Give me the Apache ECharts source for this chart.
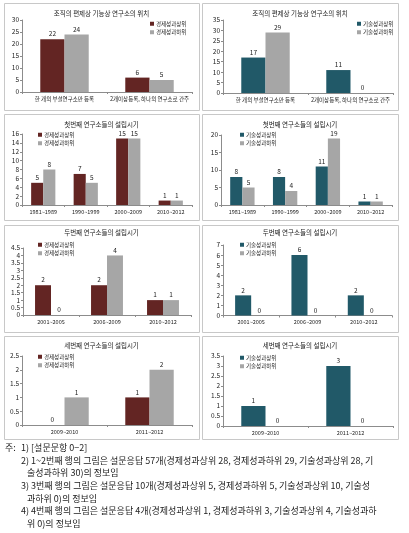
<!DOCTYPE html>
<html><head><meta charset="utf-8">
<script src="https://cdn.jsdelivr.net/npm/echarts@6/dist/echarts.min.js"></script>
<style>html,body{margin:0;padding:0;background:#fff}#c{width:409px;height:533px}</style>
</head><body><div id="c"></div>
<script>
// ---- data ----
const titleRow1 = '조직의 편제상 기능상 연구소의 위치';
const titleRow2 = '첫번째 연구소들의 설립시기';
const titleRow3 = '두번째 연구소들의 설립시기';
const titleRow4 = '세번째 연구소들의 설립시기';
const econNames = ['경제성과상위', '경제성과하위'];
const techNames = ['기술성과상위', '기술성과하위'];

const row1Cats = ['한 개의 부설연구소만 등록', '2개이상등록, 하나의 연구소로 간주'];
const row1EconHigh = [22, 6];
const row1EconLow = [24, 5];
const row1TechHigh = [17, 11];
const row1TechLow = [29, 0];

const row2Cats = ['1981~1989', '1990~1999', '2000~2009', '2010~2012'];
const row2EconHigh = [5, 7, 15, 1];
const row2EconLow = [8, 5, 15, 1];
const row2TechHigh = [8, 8, 11, 1];
const row2TechLow = [5, 4, 19, 1];

const row3Cats = ['2001~2005', '2006~2009', '2010~2012'];
const row3EconHigh = [2, 2, 1];
const row3EconLow = [0, 4, 1];
const row3TechHigh = [2, 6, 2];
const row3TechLow = [0, 0, 0];

const row4Cats = ['2009~2010', '2011~2012'];
const row4EconHigh = [0, 1];
const row4EconLow = [1, 2];
const row4TechHigh = [1, 3];
const row4TechLow = [0, 0];

// y-axis scales [max, interval]
const yScales = [[30, 5], [35, 5], [16, 2], [20, 5], [4.5, 0.5], [7, 1], [2.5, 0.5], [3.5, 0.5]];

const noteHead = '주:';
const noteLines = [
  '1) [설문문항 0−2]',
  '2) 1~2번째 행의 그림은 설문응답 57개(경제성과상위 28, 경제성과하위 29, 기술성과상위 28, 기',
  '술성과하위 30)의 정보임',
  '3) 3번째 행의 그림은 설문응답 10개(경제성과상위 5, 경제성과하위 5, 기술성과상위 10, 기술성',
  '과하위 0)의 정보임',
  '4) 4번째 행의 그림은 설문응답 4개(경제성과상위 1, 경제성과하위 3, 기술성과상위 4, 기술성과하',
  '위 0)의 정보임'
];

// ---- layout / style ----
const FONT = '"Noto Sans CJK KR", "Noto Sans", sans-serif';
const C_MAROON = '#632523', C_GRAY = '#a6a6a6', C_TEAL = '#215968';
const AX = '#8c8c8c';

const panels = [
  {x: 4, y: 3, w: 195, h: 107}, {x: 202, y: 3, w: 196, h: 107},
  {x: 4, y: 114, w: 195, h: 106}, {x: 202, y: 114, w: 196, h: 106},
  {x: 4, y: 225, w: 195, h: 107}, {x: 202, y: 225, w: 196, h: 107},
  {x: 4, y: 336, w: 195, h: 103}, {x: 202, y: 336, w: 196, h: 103}
];
const grids = [
  {left: 22, top: 20, width: 170, height: 72},
  {left: 223, top: 20, width: 170, height: 73},
  {left: 22, top: 134, width: 170, height: 71},
  {left: 221, top: 135, width: 171, height: 70},
  {left: 23, top: 248, width: 168, height: 67},
  {left: 223, top: 245, width: 169, height: 70.5},
  {left: 22, top: 356, width: 170, height: 69},
  {left: 223, top: 356, width: 170, height: 70}
];
const titleTops = [10, 10, 121, 121, 229.5, 229.5, 342.5, 342.5];
const legendPos = [
  {left: 150, top: 21}, {left: 357, top: 21},
  {left: 38, top: 132}, {left: 240, top: 132},
  {left: 38, top: 242}, {left: 240, top: 242},
  {left: 38, top: 354}, {left: 240, top: 355}
];

const cats = [row1Cats, row1Cats, row2Cats, row2Cats, row3Cats, row3Cats, row4Cats, row4Cats];
const titles = [titleRow1, titleRow1, titleRow2, titleRow2, titleRow3, titleRow3, titleRow4, titleRow4];
const seriesData = [
  [row1EconHigh, row1EconLow], [row1TechHigh, row1TechLow],
  [row2EconHigh, row2EconLow], [row2TechHigh, row2TechLow],
  [row3EconHigh, row3EconLow], [row3TechHigh, row3TechLow],
  [row4EconHigh, row4EconLow], [row4TechHigh, row4TechLow]
];

const option = {
  animation: false,
  backgroundColor: '#fff',
  textStyle: {fontFamily: FONT},
  title: [], legend: [], grid: [], xAxis: [], yAxis: [], series: [], graphic: []
};

panels.forEach(p => {
  option.graphic.push({type: 'rect', shape: {x: p.x + 0.5, y: p.y + 0.5, width: p.w, height: p.h},
    style: {fill: 'none', stroke: '#c8c8c8', lineWidth: 1}, z: -1});
});

for (let i = 0; i < 8; i++) {
  const left = i % 2 === 0;
  const names = left ? econNames : techNames;
  const colors = left ? [C_MAROON, C_GRAY] : [C_TEAL, C_GRAY];
  const p = panels[i];
  option.grid.push(Object.assign({containLabel: false}, grids[i]));
  option.title.push({
    text: titles[i], left: p.x + p.w / 2, top: titleTops[i], textAlign: 'center', padding: 0,
    textStyle: {fontSize: 6.5, fontWeight: 'normal', color: '#222', fontFamily: FONT}
  });
  option.legend.push({
    data: names, orient: 'vertical', left: legendPos[i].left, top: legendPos[i].top,
    itemWidth: 4, itemHeight: 4, itemGap: 3, icon: 'rect', padding: 0,
    textStyle: {fontSize: 5.5, color: '#222', fontFamily: FONT, padding: [0, 0, 0, -3]}
  });
  option.xAxis.push({
    type: 'category', gridIndex: i, data: cats[i],
    axisLine: {lineStyle: {color: AX, width: 1}},
    axisTick: {show: true, length: 2, lineStyle: {color: AX}},
    axisLabel: {fontSize: 5.5, color: '#222', margin: 4, interval: 0, fontFamily: FONT}
  });
  option.yAxis.push({
    type: 'value', gridIndex: i, min: 0, max: yScales[i][0], interval: yScales[i][1],
    splitLine: {show: false},
    axisLine: {show: true, lineStyle: {color: AX, width: 1}},
    axisTick: {show: true, length: 2, lineStyle: {color: AX}},
    axisLabel: {fontSize: 6.5, color: '#222', margin: 3, fontFamily: FONT}
  });
  for (let s = 0; s < 2; s++) {
    option.series.push({
      type: 'bar', name: names[s], xAxisIndex: i, yAxisIndex: i,
      data: seriesData[i][s], barGap: '0%', barCategoryGap: '43%',
      itemStyle: {color: colors[s]},
      label: {show: true, position: 'top', distance: 2, fontSize: 6.5, color: '#222', fontFamily: FONT}
    });
  }
}

option.graphic.push({type: 'text', left: 5, top: 443,
  style: {text: noteHead, font: '9px ' + FONT, fill: '#222'}});
const noteX = [21, 21, 27, 21, 27, 21, 27];
noteLines.forEach((t, k) => {
  option.graphic.push({type: 'text', left: noteX[k], top: 443 + k * 12.7,
    style: {text: t, font: '9px ' + FONT, fill: '#222'}});
});

const chart = echarts.init(document.getElementById('c'), null, {renderer: 'canvas'});
chart.setOption(option);
</script></body></html>
